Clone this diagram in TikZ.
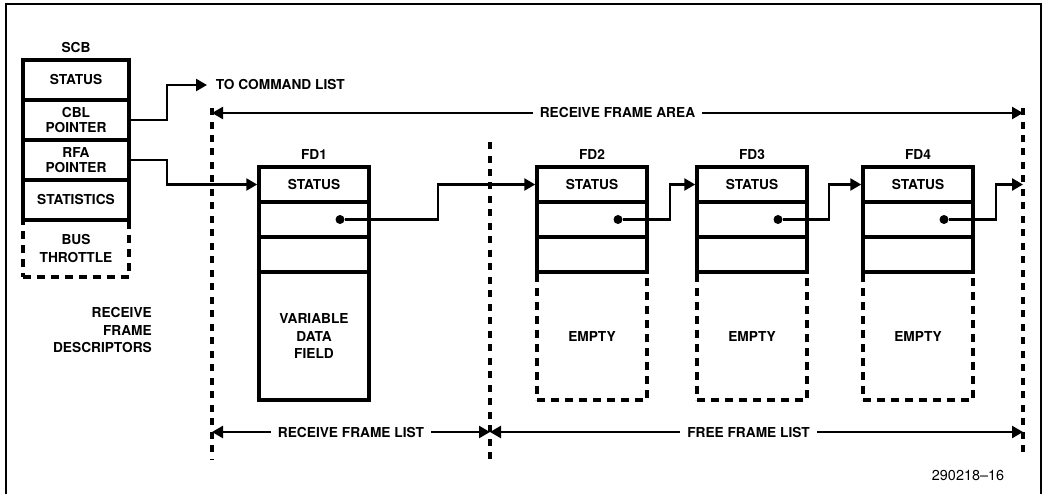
\documentclass[tikz,border=0pt]{standalone}
\usepackage{fontspec}
\setsansfont{TeX Gyre Heros}
\usetikzlibrary{arrows.meta,positioning,calc}

\begin{document}
\begin{tikzpicture}[
  x=0.02cm,
  y=-0.02cm,
  font=\sffamily\bfseries\fontsize{7.8}{10}\selectfont,
  heavy/.style={line width=2pt},
  scbcell/.style={draw, heavy, minimum width=2.12cm, minimum height=0.8cm, inner sep=0pt, align=center},
  ptrcell/.style={font=\sffamily\bfseries\fontsize{7.8}{8.6}\selectfont},
  cell/.style={draw, heavy, minimum width=2.2cm, minimum height=0.7cm, inner sep=0pt, align=center},
  datafield/.style={cell, minimum height=2.56cm},
  dashbox/.style={dash pattern=on 0.16cm off 0.12cm},
  divider/.style={line width=2pt, dash pattern=on 0.14cm off 0.13cm},
  link/.style={line width=1.4pt, -{Triangle[length=0.22cm,width=0.24cm]}},
  span/.style={line width=1.4pt, {Triangle[length=0.22cm,width=0.24cm]}-{Triangle[length=0.22cm,width=0.24cm]}},
  ptr/.style={circle, fill, inner sep=0pt, minimum size=0.18cm},
  spanlabel/.style={fill=white, inner xsep=4pt, inner ysep=1pt}
]
\useasboundingbox (0,0) rectangle (1047,494);
\draw[line width=1.4pt] (6,494) -- (6,4) -- (1041,4) -- (1041,494);

% system control block
\node (scb) at (76,48) {SCB};
\node[scbcell] (scb-st) at (76,80) {STATUS};
\node[scbcell, ptrcell] (scb-cbl) at (76,120) {CBL\\POINTER};
\node[scbcell, ptrcell] (scb-rfa) at (76,160) {RFA\\POINTER};
\node[scbcell] (scb-stat) at (76,200) {STATISTICS};
\node[scbcell, dashbox, minimum height=1.14cm] (scb-bus) at (76,248.5) {BUS\\THROTTLE};
\node[align=right, anchor=east] (rfd) at (158,330) {RECEIVE\\FRAME\\DESCRIPTORS};

\node[anchor=west, inner sep=0pt, outer xsep=5pt] (tocmd) at (207,85) {TO COMMAND LIST};
\draw[link] (scb-cbl.east) -- ++(36,0) |- (tocmd.west);

% frame descriptors
\foreach \n/\x in {1/314,2/592,3/752,4/918} {
  \node (fd\n) at (\x,155) {FD\n};
  \node[cell] (fd\n-s) at (\x,184.5) {STATUS};
  \node[cell] (fd\n-p) at (\x,219.5) {};
  \node[cell] (fd\n-x) at (\x,254.5) {};
  \node[ptr] (dot\n) at (\x+26,219.5) {};
}
\node[datafield] (fd1-d) at (314,336) {VARIABLE\\DATA\\FIELD};
\foreach \n/\x in {2/592,3/752,4/918}
  \node[datafield, dashbox] (fd\n-d) at (\x,336) {EMPTY};

% area boundaries
\coordinate (divL) at (212,108);
\coordinate (divLb) at (212,460);
\coordinate (divM) at (490,142);
\coordinate (divMb) at (490,460);
\coordinate (divR) at (1023,108);
\coordinate (divRb) at (1023,458);
\draw[divider] (divL) -- (divLb);
\draw[divider] (divM) -- (divMb);
\draw[divider] (divR) -- (divRb);

\draw[link] (scb-rfa.east) -- ++(36,0) |- (fd1-s.west);
\draw[link] (dot1) -- ++(98,0) |- (fd2-s.west);
\draw[link] (dot2) -- ++(52,0) |- (fd3-s.west);
\draw[link] (dot3) -- ++(51,0) |- (fd4-s.west);
\draw[link] (dot4) -- ++(52,0) |- (divR |- fd4-s.west);

\draw[span] (divL |- 0,113) -- node[spanlabel] (rfa) {RECEIVE FRAME AREA} (divR |- 0,113);
\draw[span] (divL |- 0,432) -- node[spanlabel] (rfl) {RECEIVE FRAME LIST} (divM |- 0,432);
\draw[span] (divM |- 0,432) -- node[spanlabel, pos=0.485] (ffl) {FREE FRAME LIST} (divR |- 0,432);

\node[font=\sffamily\fontsize{8.2}{10}\selectfont] (figno) at (968,475) {290218--16};
\end{tikzpicture}
\end{document}
